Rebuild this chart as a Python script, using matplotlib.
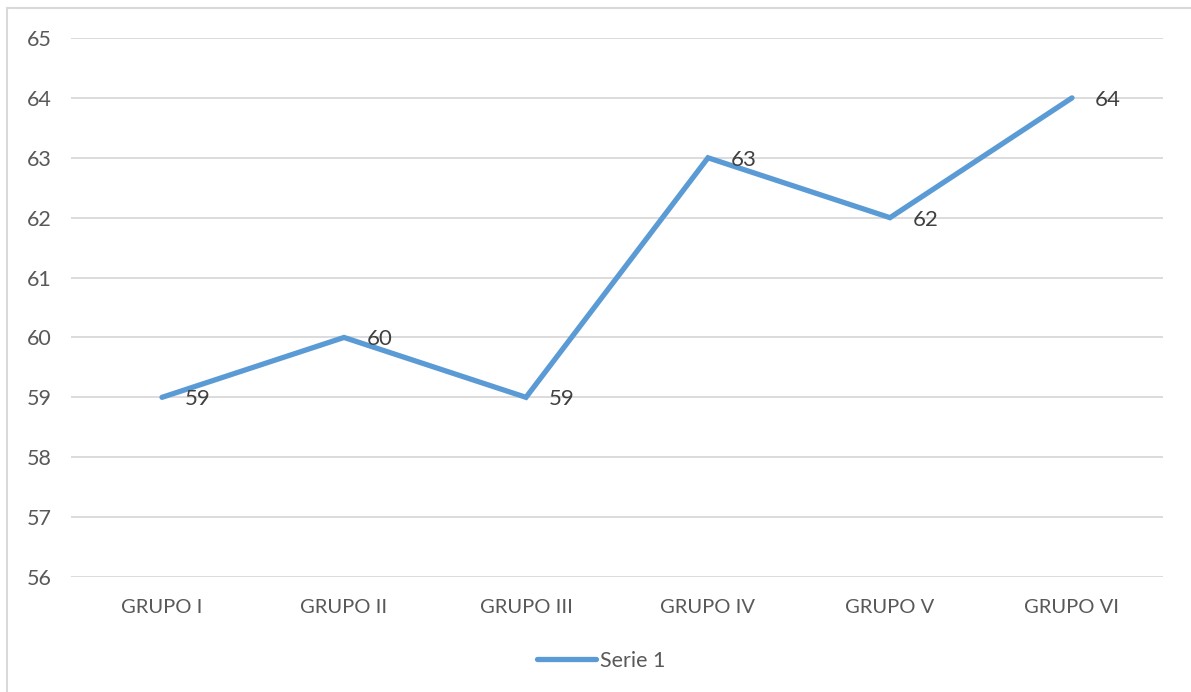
import matplotlib
matplotlib.use("Agg")
import matplotlib.pyplot as plt
from matplotlib.patches import Rectangle
from matplotlib.lines import Line2D
import matplotlib.transforms as mtransforms

categories = ["GRUPO I", "GRUPO II", "GRUPO III", "GRUPO IV", "GRUPO V", "GRUPO VI"]
values = [59, 60, 59, 63, 62, 64]
series_name = "Serie 1"
y_ticks = [56, 57, 58, 59, 60, 61, 62, 63, 64, 65]

W, H = 1191, 692
plt.rcParams['font.family'] = ['Lato', 'DejaVu Sans']
fig = plt.figure(figsize=(W / 100, H / 100), dpi=100)

# chart frame
fig.patches.append(Rectangle((7 / W, -0.1), 1.2, 1 - 8 / H + 0.1, transform=fig.transFigure,
                             fill=False, edgecolor="#D9D9D9", linewidth=1.5))

ax = fig.add_axes([71 / W, 1 - 577 / H, (1163 - 71) / W, (577 - 38) / H])
color = "#5B9BD5"
x = list(range(len(categories)))
ax.plot(x, values, color=color, linewidth=3.8, solid_capstyle="round", solid_joinstyle="miter", zorder=3)
for xi, v in zip(x, values):
    ax.annotate(str(v), (xi, v), xytext=(23, -2), textcoords="offset pixels",
                ha="left", va="center", fontsize=16, color="#404040", zorder=4)

ax.set_xlim(-0.5, len(categories) - 0.5)
ax.set_ylim(56, 65)
ax.set_yticks(y_ticks)
ax.set_xticks(x)
ax.set_xticklabels(categories, fontsize=14.5)
ax.grid(axis="y", color="#D9D9D9", linewidth=1.3)
ax.set_axisbelow(True)
for s in ax.spines.values():
    s.set_visible(False)
ax.tick_params(axis="both", length=0, labelcolor="#595959")
ax.tick_params(axis="y", labelsize=15.5, pad=0)
ax.tick_params(axis="x", pad=16)
for lbl in ax.get_yticklabels():
    lbl.set_horizontalalignment("left")
    lbl.set_transform(lbl.get_transform() + mtransforms.ScaledTranslation(-44 / 100, 0, fig.dpi_scale_trans))

handle = Line2D([], [], color=color, linewidth=3.8, solid_capstyle="round")
fig.legend([handle], [series_name], loc="center", bbox_to_anchor=(601 / W, 1 - 661 / H),
           frameon=False, fontsize=15.5, labelcolor="#595959", handlelength=2.75, handletextpad=0.15)

fig.savefig("out.png", dpi=100)
